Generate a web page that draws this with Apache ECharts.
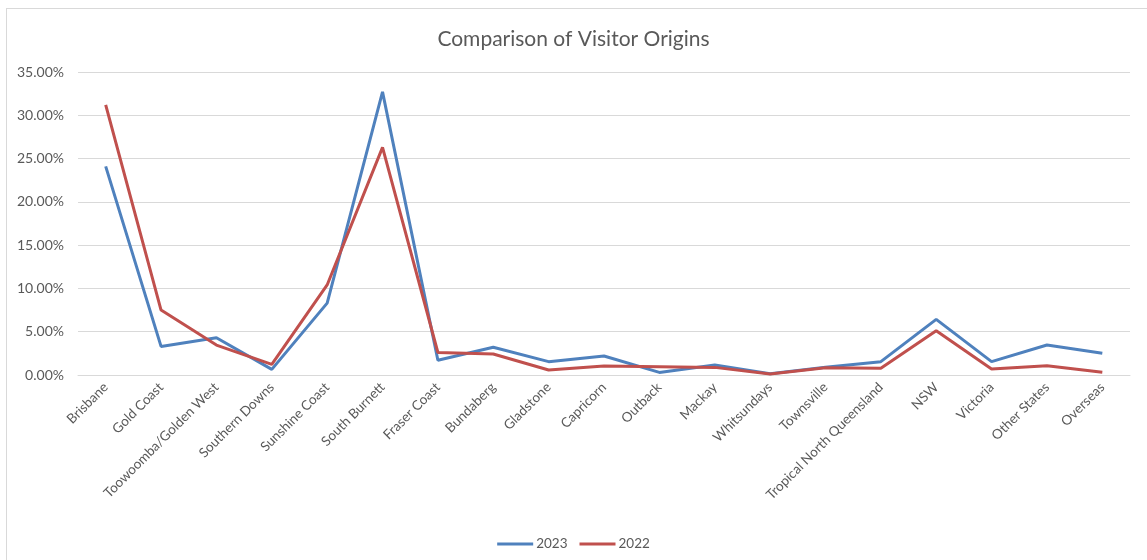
<!DOCTYPE html>
<html>
<head>
<meta charset="utf-8">
<script src="https://cdn.jsdelivr.net/npm/echarts@6/dist/echarts.min.js"></script>
<style>
  html, body { margin: 0; padding: 0; background: #fff; }
  #frame { position: absolute; left: 6px; top: 8px; width: 1200px; height: 600px;
           border-left: 1px solid #d9d9d9; border-top: 1px solid #d9d9d9; }
  #chart { position: absolute; left: 0; top: 0; width: 1147px; height: 560px; }
</style>
</head>
<body>
<div id="frame"></div>
<div id="chart"></div>
<script>
const regions = ['Brisbane', 'Gold Coast', 'Toowoomba/Golden West', 'Southern Downs', 'Sunshine Coast',
  'South Burnett', 'Fraser Coast', 'Bundaberg', 'Gladstone', 'Capricorn', 'Outback', 'Mackay',
  'Whitsundays', 'Townsville', 'Tropical North Queensland', 'NSW', 'Victoria', 'Other States', 'Overseas'];

const share2023 = [0.241, 0.033, 0.043, 0.0065, 0.083, 0.327, 0.017, 0.032, 0.0154, 0.022, 0.003,
  0.0115, 0.0015, 0.009, 0.0154, 0.0642, 0.0154, 0.0346, 0.025];
const share2022 = [0.312, 0.075, 0.0346, 0.0123, 0.104, 0.263, 0.026, 0.0242, 0.0058, 0.0104, 0.0096,
  0.0088, 0.0012, 0.0085, 0.0077, 0.0512, 0.0069, 0.0108, 0.0031];

const yTicks = { min: 0, max: 0.35, step: 0.05 };

const font = 'Lato, "Open Sans", sans-serif';
const chart = echarts.init(document.getElementById('chart'));

chart.setOption({
  animation: false,
  color: ['#4F81BD', '#C0504D'],
  title: {
    text: 'Comparison of Visitor Origins',
    left: 'center',
    top: 24,
    textStyle: { color: '#595959', fontSize: 21, fontWeight: 'normal', fontFamily: font }
  },
  grid: { left: 78, right: 17, top: 72, bottom: 185 },
  legend: {
    left: 'center',
    top: 532,
    itemWidth: 36,
    itemHeight: 3,
    itemGap: 12,
    icon: 'rect',
    textStyle: { color: '#595959', fontSize: 13.5, fontFamily: font, padding: [0, 0, 0, -2] },
    data: ['2023', '2022']
  },
  xAxis: {
    type: 'category',
    data: regions,
    boundaryGap: true,
    axisLine: { lineStyle: { color: '#d9d9d9' } },
    axisTick: { show: false },
    axisLabel: { rotate: 45, interval: 0, margin: 10, color: '#595959', fontSize: 13.5, fontFamily: font }
  },
  yAxis: {
    type: 'value',
    min: yTicks.min,
    max: yTicks.max,
    interval: yTicks.step,
    axisLine: { show: false },
    axisTick: { show: false },
    splitLine: { lineStyle: { color: '#d9d9d9' } },
    axisLabel: {
      margin: 14,
      color: '#595959',
      fontSize: 14,
      fontFamily: font,
      formatter: v => (v * 100).toFixed(2) + '%'
    }
  },
  series: [
    { name: '2023', type: 'line', data: share2023, symbol: 'none', lineStyle: { width: 3 } },
    { name: '2022', type: 'line', data: share2022, symbol: 'none', lineStyle: { width: 3 } }
  ]
});
</script>
</body>
</html>
